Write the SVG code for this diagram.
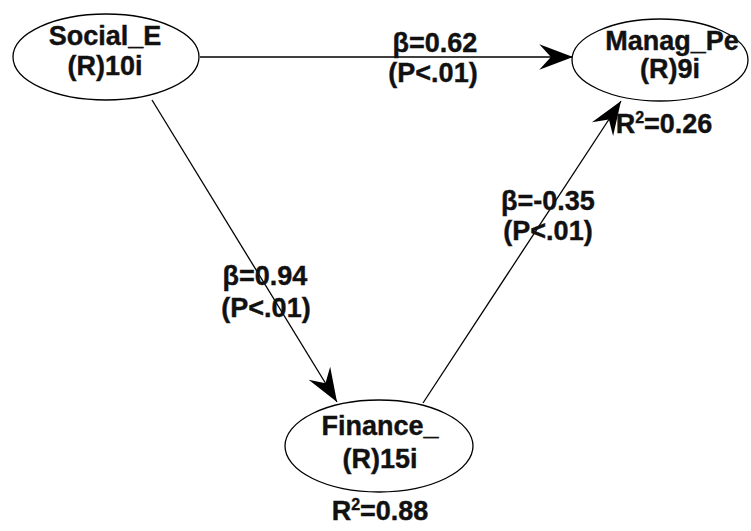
<svg xmlns="http://www.w3.org/2000/svg" width="751" height="531" viewBox="0 0 751 531">
<defs>
<style>
.node ellipse{fill:#fff;stroke:#000;stroke-width:1.3}
text{font-family:"Liberation Sans",Arial,sans-serif;font-weight:bold;font-size:27px;fill:#111;stroke:#111;stroke-width:0.4;text-anchor:middle}
.edge{stroke:#000;stroke-width:1.3;fill:none;marker-end:url(#ah)}
</style>
<marker id="ah" markerUnits="userSpaceOnUse" markerWidth="40" markerHeight="40" viewBox="-34 -16 38 32" refX="0" refY="0" orient="auto">
<path d="M0,0 L-32,-12 L-21,0 L-32,12 Z" fill="#000"/>
</marker>
</defs>
<rect width="751" height="531" fill="#fff"/>
<g id="connectors">
<line class="edge" x1="200" y1="57" x2="573" y2="57"/>
<line class="edge" x1="152" y1="100" x2="337" y2="402"/>
<line class="edge" x1="423" y1="403" x2="621" y2="101"/>
</g>
<g id="labels">
<text x="435" y="52">β=0.62</text>
<text x="433" y="82">(P&lt;.01)</text>
<text x="265" y="285">β=0.94</text>
<text x="266" y="317">(P&lt;.01)</text>
<text x="548" y="210">β=-0.35</text>
<text x="548" y="240">(P&lt;.01)</text>
</g>
<g id="social_e" class="node">
<ellipse cx="106" cy="57" rx="93" ry="43"/>
<text x="105" y="45">Social_E</text>
<text x="105" y="75">(R)10i</text>
</g>
<g id="manag_pe" class="node">
<ellipse cx="660" cy="60" rx="88" ry="41"/>
<text x="672" y="50">Manag_Pe</text>
<text x="670" y="78">(R)9i</text>
<text x="664" y="133">R<tspan font-size="16" dy="-10">2</tspan><tspan dy="10">=0.26</tspan></text>
</g>
<g id="finance" class="node">
<ellipse cx="379" cy="446" rx="94" ry="46"/>
<text x="380" y="435">Finance_</text>
<text x="380" y="468">(R)15i</text>
<text x="380" y="520">R<tspan font-size="16" dy="-10">2</tspan><tspan dy="10">=0.88</tspan></text>
</g>
</svg>
